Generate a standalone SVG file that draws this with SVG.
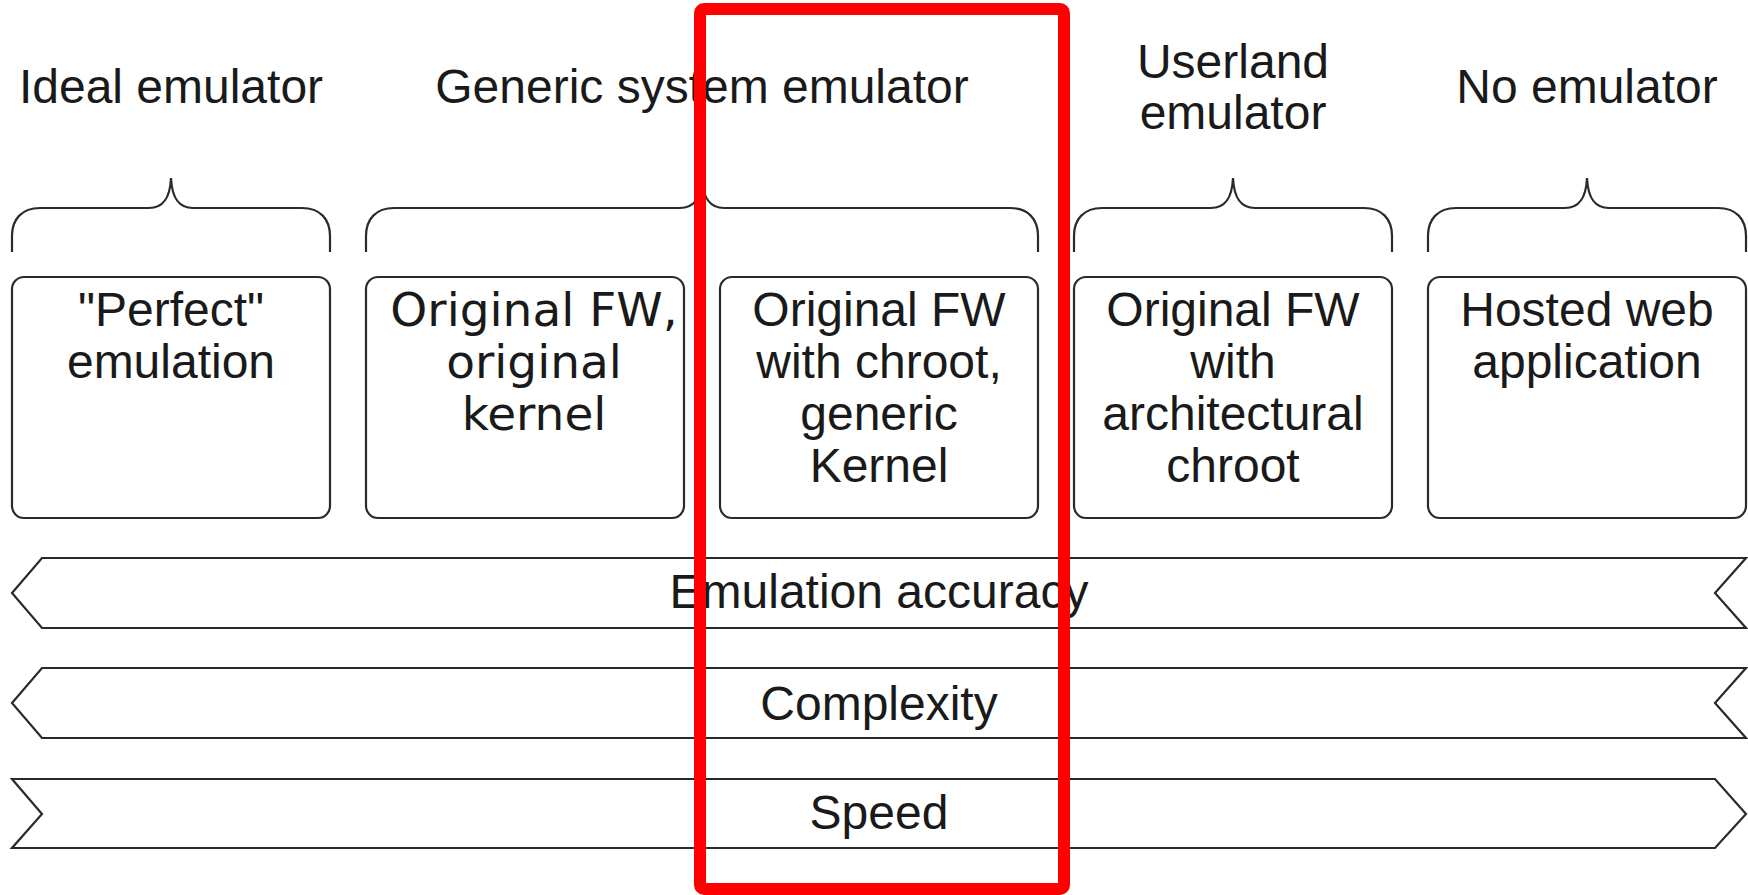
<svg xmlns="http://www.w3.org/2000/svg" width="1748" height="895" viewBox="0 0 1748 895">
  <style>
    .title { font-family: "Liberation Sans", Arial, sans-serif; font-size: 48px; fill: #1a1a1a; text-anchor: middle; }
    .label { font-family: "Liberation Sans", Arial, sans-serif; font-size: 48px; fill: #1a1a1a; text-anchor: middle; }
    .label-dv { font-family: "DejaVu Sans", Verdana, sans-serif; font-size: 47px; fill: #1a1a1a; text-anchor: middle; }
    .box { fill: #ffffff; stroke: #2a2a2a; stroke-width: 2.2; }
    .brace { fill: none; stroke: #2a2a2a; stroke-width: 2.2; }
    .band { fill: #ffffff; stroke: #2a2a2a; stroke-width: 2.2; stroke-linejoin: miter; }
    .highlight { fill: none; stroke: #ff0000; stroke-width: 12; }
  </style>
  <rect width="1748" height="895" fill="#ffffff"/>

  <!-- category headings -->
  <g id="heading-ideal">
    <text class="title" x="171" y="103">Ideal emulator</text>
  </g>
  <g id="heading-generic">
    <text class="title" x="702" y="103">Generic system emulator</text>
  </g>
  <g id="heading-userland">
    <text class="title" x="1233" y="78">Userland</text>
    <text class="title" x="1233" y="129">emulator</text>
  </g>
  <g id="heading-none">
    <text class="title" x="1587" y="103">No emulator</text>
  </g>

  <!-- curly braces grouping the approaches -->
  <g id="braces">
    <path class="brace" d="M12,252 V236 C12,219 22,208 40,208 H149 C162,208 170,200 171,178 C172,200 180,208 193,208 H302 C320,208 330,219 330,236 V252"/>
    <path class="brace" d="M366,252 V236 C366,219 376,208 394,208 H680 C693,208 701,200 702,178 C703,200 711,208 724,208 H1010 C1028,208 1038,219 1038,236 V252"/>
    <path class="brace" d="M1074,252 V236 C1074,219 1084,208 1102,208 H1211 C1224,208 1232,200 1233,178 C1234,200 1242,208 1255,208 H1364 C1382,208 1392,219 1392,236 V252"/>
    <path class="brace" d="M1428,252 V236 C1428,219 1438,208 1456,208 H1565 C1578,208 1586,200 1587,178 C1588,200 1596,208 1609,208 H1718 C1736,208 1746,219 1746,236 V252"/>
  </g>

  <!-- approach boxes -->
  <g id="node-perfect">
    <rect class="box" x="12" y="277" width="318" height="241" rx="12"/>
    <text class="label" x="171" y="326">"Perfect"</text>
    <text class="label" x="171" y="378">emulation</text>
  </g>
  <g id="node-original-kernel">
    <rect class="box" x="366" y="277" width="318" height="241" rx="12"/>
    <text class="label-dv" x="534" y="326">Original FW,</text>
    <text class="label-dv" x="534" y="378">original</text>
    <text class="label-dv" x="534" y="430">kernel</text>
  </g>
  <g id="node-chroot-generic">
    <rect class="box" x="720" y="277" width="318" height="241" rx="12"/>
    <text class="label" x="879" y="326">Original FW</text>
    <text class="label" x="879" y="378">with chroot,</text>
    <text class="label" x="879" y="430">generic</text>
    <text class="label" x="879" y="482">Kernel</text>
  </g>
  <g id="node-arch-chroot">
    <rect class="box" x="1074" y="277" width="318" height="241" rx="12"/>
    <text class="label" x="1233" y="326">Original FW</text>
    <text class="label" x="1233" y="378">with</text>
    <text class="label" x="1233" y="430">architectural</text>
    <text class="label" x="1233" y="482">chroot</text>
  </g>
  <g id="node-web-app">
    <rect class="box" x="1428" y="277" width="318" height="241" rx="12"/>
    <text class="label" x="1587" y="326">Hosted web</text>
    <text class="label" x="1587" y="378">application</text>
  </g>

  <!-- scale bands -->
  <g id="band-accuracy">
    <path class="band" d="M12,593 L42,558 H1746 L1715,593 L1746,628 H42 Z"/>
    <text class="label" x="879" y="608">Emulation accuracy</text>
  </g>
  <g id="band-complexity">
    <path class="band" d="M12,703 L42,668 H1746 L1715,703 L1746,738 H42 Z"/>
    <text class="label" x="879" y="720">Complexity</text>
  </g>
  <g id="band-speed">
    <path class="band" d="M12,779 H1715 L1746,814 L1715,848 H12 L42,814 Z"/>
    <text class="label" x="879" y="829">Speed</text>
  </g>

  <!-- highlight frame -->
  <g id="highlight">
    <rect class="highlight" x="700" y="9" width="364" height="880" rx="4"/>
  </g>
</svg>
